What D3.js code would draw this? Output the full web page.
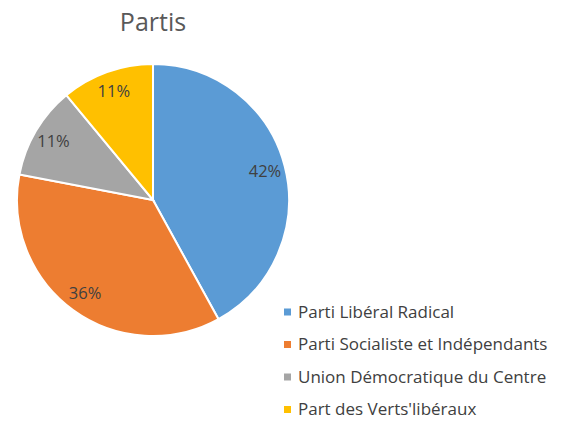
<!DOCTYPE html>
<html lang="fr">
<head>
  <meta charset="UTF-8">
  <title>Partis</title>
  <script src="https://d3js.org/d3.v7.min.js"></script>
  <style>
    body { margin: 0; background: white; font-family: "Open Sans", sans-serif; }
    .label { font-size: 16.5px; fill: #404040; }
    .legend text { font-size: 17px; fill: #404040; }
  </style>
</head>
<body>
  <svg width="565" height="421"></svg>
  <script>
    const parties = ["Parti Libéral Radical", "Parti Socialiste et Indépendants", "Union Démocratique du Centre", "Part des Verts'libéraux"];
    const shares = [42, 36, 11, 11];
    const colors = ["#5B9BD5", "#ED7D31", "#A5A5A5", "#FFC000"];

    const svg = d3.select("svg");
    const cx = 153, cy = 200, radius = 136;

    svg.append("text")
      .attr("x", cx)
      .attr("y", 31)
      .attr("text-anchor", "middle")
      .style("font-size", "25px")
      .style("fill", "#595959")
      .text("Partis");

    const data = parties.map((p, i) => ({ party: p, value: shares[i], color: colors[i] }));
    const pie = d3.pie().sort(null).value(d => d.value);
    const arc = d3.arc().innerRadius(0).outerRadius(radius);
    const labelArc = d3.arc().innerRadius(radius * 0.85).outerRadius(radius * 0.85);

    const g = svg.append("g").attr("transform", `translate(${cx},${cy})`);
    const arcs = pie(data);

    g.selectAll("path")
      .data(arcs)
      .enter()
      .append("path")
      .attr("d", arc)
      .attr("fill", d => d.data.color)
      .attr("stroke", "white")
      .attr("stroke-width", 2);

    g.selectAll(".label")
      .data(arcs)
      .enter()
      .append("text")
      .attr("class", "label")
      .attr("transform", d => `translate(${labelArc.centroid(d)})`)
      .attr("text-anchor", "middle")
      .attr("dy", "0.35em")
      .text(d => d.data.value + "%");

    const legend = svg.append("g").attr("class", "legend")
      .attr("transform", "translate(284,312)");
    const rows = legend.selectAll("g")
      .data(data)
      .enter()
      .append("g")
      .attr("transform", (d, i) => `translate(0,${i * 32.5})`);
    rows.append("rect")
      .attr("x", 0).attr("y", -3.5)
      .attr("width", 7).attr("height", 7)
      .attr("fill", d => d.color);
    rows.append("text")
      .attr("x", 14)
      .attr("dy", "0.35em")
      .text(d => d.party);
  </script>
</body>
</html>
